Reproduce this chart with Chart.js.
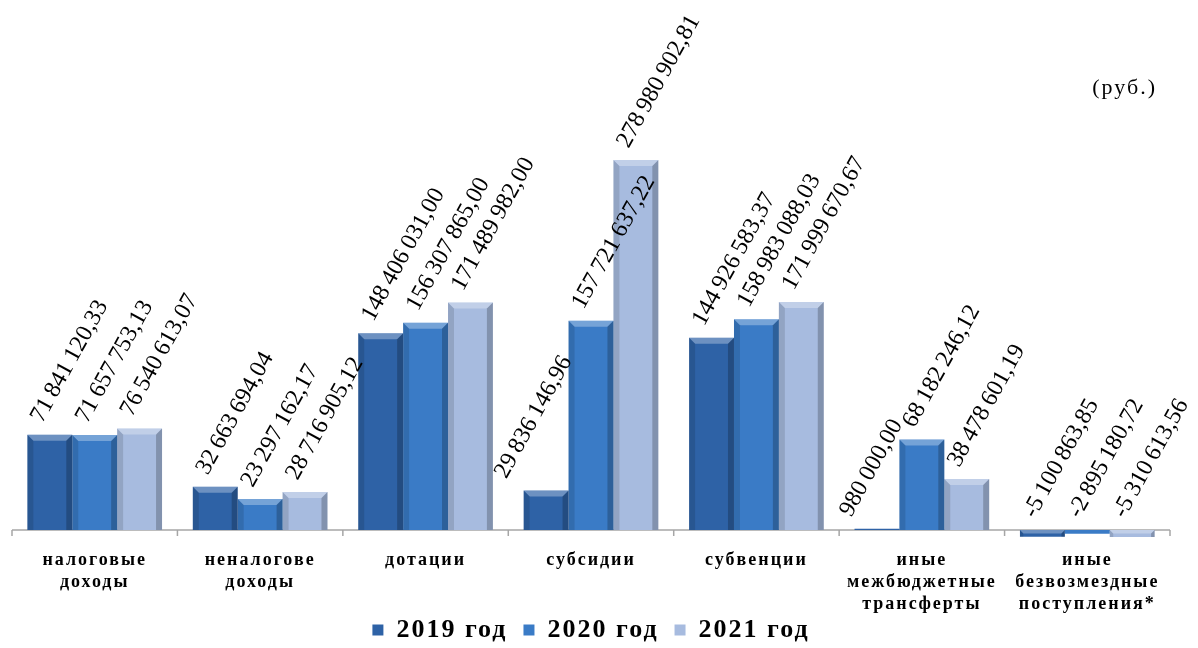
<!DOCTYPE html>
<html>
<head>
<meta charset="utf-8">
<script src="https://cdn.jsdelivr.net/npm/chart.js@4"></script>
<style>
  body { margin: 0; background: #fff; }
</style>
</head>
<body>
<canvas id="budgetChart" width="1198" height="648"></canvas>
<script>
const categories = [
  ['налоговые', 'доходы'],
  ['неналогове', 'доходы'],
  ['дотации'],
  ['субсидии'],
  ['субвенции'],
  ['иные', 'межбюджетные', 'трансферты'],
  ['иные', 'безвозмездные', 'поступления*']
];
const years = ['2019 год', '2020 год', '2021 год'];
const values2019 = [71841120.33, 32663694.04, 148406031.00, 29836146.96, 144926583.37, 980000.00, -5100863.85];
const values2020 = [71657753.13, 23297162.17, 156307865.00, 157721637.22, 158983088.03, 68182246.12, -2895180.72];
const values2021 = [76540613.07, 28716905.12, 171489982.00, 278980902.81, 171999670.67, 38478601.19, -5310613.56];
const unitLabel = '(руб.)';

const barColors = ['#2e62a6', '#3a7bc6', '#a7bbdf'];
const serif = '"Liberation Serif", "Times New Roman", serif';
const labelAngle = 61 * Math.PI / 180;

// 71841120.33 -> "71 841 120,33"
function formatRub(v) {
  const parts = Math.abs(v).toFixed(2).split('.');
  const int = parts[0].replace(/\B(?=(\d{3})+(?!\d))/g, '\u2009');
  return (v < 0 ? '-' : '') + int + ',' + parts[1];
}

const decorPlugin = {
  id: 'decor',
  beforeLayout(chart) {
    chart.ctx.letterSpacing = '2px';
  },
  afterLayout(chart) {
    chart.legend.top += 5;
    chart.legend.bottom += 5;
    chart.titleBlock.right -= 13;
    // let the three-line labels run past the short axis box
    chart.scales.x.bottom = chart.height;
  },
  beforeDraw(chart) {
    chart.ctx.letterSpacing = '2px';
  },
  beforeDatasetsDraw(chart) {
    // category axis drawn on the zero line
    const ctx = chart.ctx;
    const x = chart.scales.x;
    const y0 = chart.scales.y.getPixelForValue(0);
    ctx.save();
    ctx.strokeStyle = '#a6a6a6';
    ctx.lineWidth = 1.5;
    ctx.beginPath();
    ctx.moveTo(x.left, y0);
    ctx.lineTo(x.right, y0);
    const step = x.width / categories.length;
    for (let i = 0; i <= categories.length; i++) {
      const px = x.left + i * step;
      ctx.moveTo(px, y0);
      ctx.lineTo(px, y0 + 6);
    }
    ctx.stroke();
    ctx.restore();
  },
  afterDatasetsDraw(chart) {
    const ctx = chart.ctx;
    const n = chart.data.datasets.length;
    chart.data.datasets.forEach((ds, i) => {
      chart.getDatasetMeta(i).data.forEach((bar, j) => {
        const left = bar.x - bar.width / 2;
        const right = bar.x + bar.width / 2;
        const top = Math.min(bar.y, bar.base);
        const bottom = Math.max(bar.y, bar.base);
        const h = bottom - top;
        ctx.save();
        if (h > 4) {
          const e = Math.min(6, h / 2);
          ctx.fillStyle = 'rgba(255,255,255,0.3)';
          ctx.beginPath();
          ctx.moveTo(left, top); ctx.lineTo(right, top);
          ctx.lineTo(right - e, top + e); ctx.lineTo(left + e, top + e);
          ctx.closePath(); ctx.fill();
          ctx.fillStyle = 'rgba(0,0,0,0.12)';
          ctx.beginPath();
          ctx.moveTo(left, top); ctx.lineTo(left + e, top + e);
          ctx.lineTo(left + e, bottom); ctx.lineTo(left, bottom);
          ctx.closePath(); ctx.fill();
          ctx.fillStyle = 'rgba(0,0,0,0.22)';
          ctx.beginPath();
          ctx.moveTo(right, top); ctx.lineTo(right - e, top + e);
          ctx.lineTo(right - e, bottom); ctx.lineTo(right, bottom);
          ctx.closePath(); ctx.fill();
        }
        // value label, rotated (no letter spacing: it skews rotated text)
        const text = formatRub(ds.data[j]);
        ctx.letterSpacing = '0px';
        ctx.font = '24px ' + serif;
        ctx.fillStyle = '#000';
        ctx.textAlign = 'left';
        ctx.textBaseline = 'middle';
        let ax = bar.x - 13;
        // a much taller neighbour on the right: move the label clear of it
        if (i < n - 1) {
          const next = chart.getDatasetMeta(i + 1).data[j];
          const nextVal = chart.data.datasets[i + 1].data[j];
          if (ds.data[j] > 0 && nextVal > 2 * ds.data[j]) {
            const w = ctx.measureText(text).width;
            ax = Math.min(ax, next.x - next.width / 2 - 2 - w * Math.cos(labelAngle));
          }
        }
        ctx.translate(ax, top - 14);
        ctx.rotate(-labelAngle);
        ctx.fillText(text, 0, 0);
        ctx.restore();
      });
    });
  }
};

function drawChart() {
  const ctx = document.getElementById('budgetChart').getContext('2d');
  return new Chart(ctx, {
    type: 'bar',
    data: {
      labels: categories,
      datasets: [
        { label: years[0], data: values2019, backgroundColor: barColors[0] },
        { label: years[1], data: values2020, backgroundColor: barColors[1] },
        { label: years[2], data: values2021, backgroundColor: barColors[2] }
      ]
    },
    options: {
      responsive: false,
      animation: false,
      layout: { padding: { left: 12, right: 28, top: 0, bottom: 0 } },
      datasets: {
        bar: { barPercentage: 1, categoryPercentage: 0.814, borderWidth: 0 }
      },
      scales: {
        x: {
          grid: { display: false },
          border: { display: false },
          ticks: {
            color: '#000',
            font: { family: serif, size: 18, weight: 'bold', lineHeight: 1.2 },
            padding: 1,
            maxRotation: 0,
            minRotation: 0,
            autoSkip: false
          },
          afterFit(scale) { scale.height = 55; }
        },
        y: {
          display: false,
          min: -8.3e6,
          max: 323.2e6
        }
      },
      plugins: {
        title: {
          display: true,
          text: unitLabel,
          align: 'end',
          color: '#000',
          font: { family: serif, size: 22, weight: 'normal' },
          padding: { top: 75, bottom: 0 }
        },
        legend: {
          position: 'bottom',
          labels: {
            color: '#000',
            font: { family: serif, size: 26, weight: 'bold' },
            boxWidth: 11,
            boxHeight: 11,
            padding: 16
          }
        },
        tooltip: { enabled: false }
      }
    },
    plugins: [decorPlugin]
  });
}

Promise.all([
  document.fonts.load('24px "Liberation Serif"'),
  document.fonts.load('bold 18px "Liberation Serif"')
]).then(drawChart, drawChart);
</script>
</body>
</html>
